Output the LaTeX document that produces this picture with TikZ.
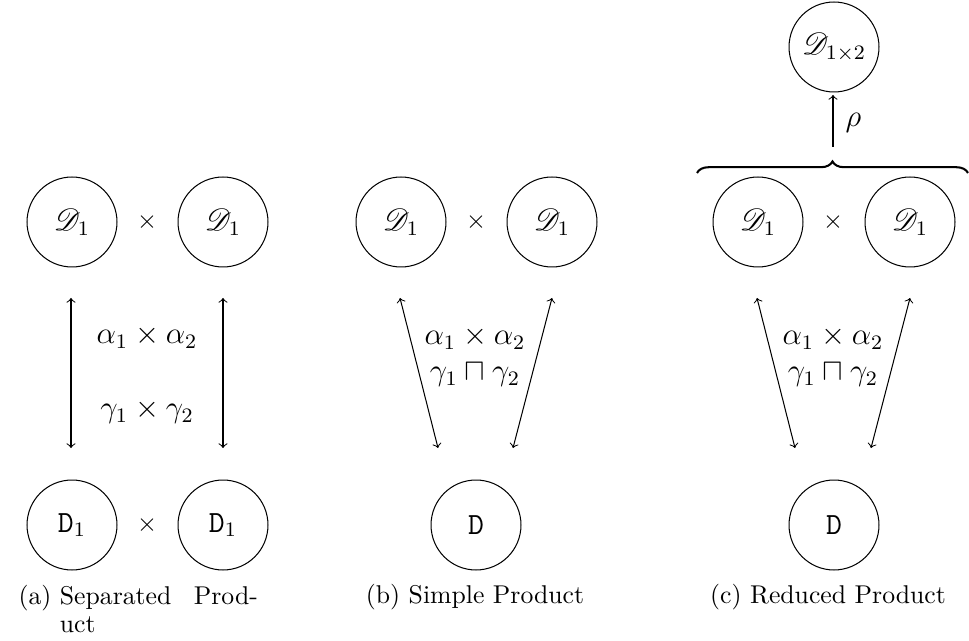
\documentclass[tikz,border=0pt]{standalone}
\usepackage{amsmath,amssymb,mathrsfs}
\usetikzlibrary{decorations.pathreplacing}
\tikzset{
  dom/.style={circle,draw,minimum size=35pt,inner sep=0pt,font=\large},
  op/.style={inner sep=0pt},
  rel/.style={<->},
  lab/.style={font=\large,inner sep=0pt},
  subcap/.style={inner sep=0pt},
  grp/.style={decorate,decoration={brace,amplitude=4.5pt},thick}
}
\begin{document}
\begin{tikzpicture}[x=0.389pt,y=-0.389pt]
  \useasboundingbox (0,0) rectangle (969,641);
  % (a) separated product
  \node[dom] (aT1) at (72,222) {$\mathscr{D}_1$}; \node[op] (aTx) at (147,222) {$\times$}; \node[dom] (aT2) at (223,222) {$\mathscr{D}_1$};
  \node[dom] (aB1) at (72,525) {$\mathtt{D}_1$}; \node[op] (aBx) at (147,525) {$\times$}; \node[dom] (aB2) at (223,525) {$\mathtt{D}_1$};
  \coordinate (aL1) at (71,298); \coordinate (aL2) at (71,448);
  \coordinate (aR1) at (223,298); \coordinate (aR2) at (223,448);
  \draw[rel] (aL1) -- (aL2); \draw[rel] (aR1) -- (aR2);
  \node[lab] (aAl) at (147,337) {$\alpha_1\times\alpha_2$};
  \node[lab] (aGa) at (147,412) {$\gamma_1\times\gamma_2$};
  \node[subcap,anchor=north west] (aCap) at (18,584) {\renewcommand{\arraystretch}{0.92}\begin{tabular}{@{}l@{\ }l@{}}(a)&\makebox[77pt][l]{Separated\hfill Prod-}\\&uct\end{tabular}};
  % (b) simple product
  \node[dom] (bT1) at (401,222) {$\mathscr{D}_1$}; \node[op] (bTx) at (476,222) {$\times$}; \node[dom] (bT2) at (552,222) {$\mathscr{D}_1$};
  \node[dom] (bB) at (476,525) {$\mathtt{D}$};
  \coordinate (bL1) at (400,298); \coordinate (bL2) at (438,448);
  \coordinate (bR1) at (552,298); \coordinate (bR2) at (513,448);
  \draw[rel] (bL1) -- (bL2); \draw[rel] (bR1) -- (bR2);
  \node[lab] (bAl) at (475,338) {$\alpha_1\times\alpha_2$};
  \node[lab] (bGa) at (475,375) {$\gamma_1\sqcap\gamma_2$};
  \node[subcap] (bCap) at (475,597) {(b) Simple Product};
  % (c) reduced product
  \node[dom] (cT1) at (758,222) {$\mathscr{D}_1$}; \node[op] (cTx) at (833,222) {$\times$}; \node[dom] (cT2) at (910,222) {$\mathscr{D}_1$};
  \node[dom] (cR) at (834,47) {$\mathscr{D}_{1\times 2}$};
  \coordinate (cBl) at (697,173); \coordinate (cBr) at (968,173);
  \draw[grp] (cBl) -- (cBr);
  \coordinate (cUp1) at (833,147); \coordinate (cUp2) at (833,95);
  \draw[->] (cUp1) -- (cUp2);
  \node[lab,anchor=west] (cRho) at (845,123) {$\rho$};
  \node[dom] (cB) at (834,525) {$\mathtt{D}$};
  \coordinate (cL1) at (757,298); \coordinate (cL2) at (795,448);
  \coordinate (cR1) at (910,298); \coordinate (cR2) at (871,448);
  \draw[rel] (cL1) -- (cL2); \draw[rel] (cR1) -- (cR2);
  \node[lab] (cAl) at (833,338) {$\alpha_1\times\alpha_2$};
  \node[lab] (cGa) at (833,375) {$\gamma_1\sqcap\gamma_2$};
  \node[subcap] (cCap) at (828,597) {(c) Reduced Product};
\end{tikzpicture}
\end{document}
